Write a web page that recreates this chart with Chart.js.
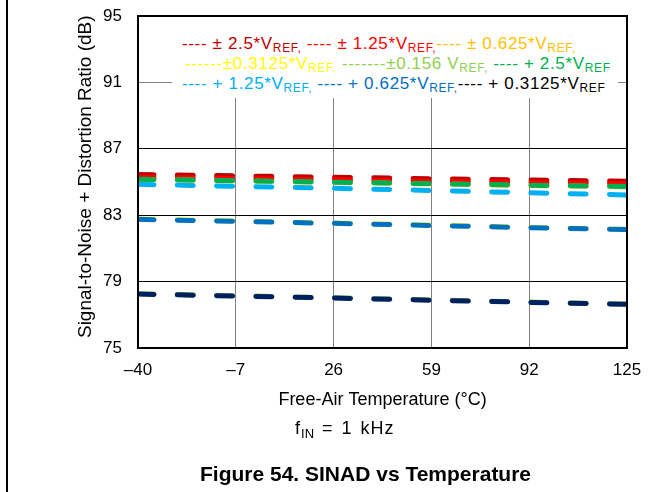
<!DOCTYPE html>
<html>
<head>
<meta charset="utf-8">
<script src="https://cdn.jsdelivr.net/npm/chart.js@4.4.1/dist/chart.umd.min.js"></script>
<style>
  html, body { margin: 0; padding: 0; background: #fff; }
  body { width: 671px; height: 492px; position: relative; overflow: hidden; font-family: "Liberation Sans", Arial, sans-serif; }
  #c { position: absolute; left: 0; top: 0; }
  #frame { position: absolute; left: 6px; top: 0; width: 2px; height: 492px; background: #000; }
  #legend { position: absolute; left: 172px; top: 17px; width: 446px; height: 81px; background: #fff; }
  .row { position: absolute; white-space: nowrap; font-size: 17px; line-height: 20px; letter-spacing: 0.65px; }
  .row sub { font-size: 12px; line-height: 0; vertical-align: -3px; }
  #fin { position: absolute; left: 295px; top: 417px; font-size: 18px; line-height: 22px; white-space: nowrap; letter-spacing: 1px; word-spacing: 2px; }
  #fin sub { font-size: 13px; line-height: 0; vertical-align: -4px; letter-spacing: 0; }
  #caption { position: absolute; left: 200px; top: 462px; font-size: 21px; line-height: 24px; font-weight: bold; white-space: nowrap; }
</style>
</head>
<body>
<canvas id="c" width="671" height="492"></canvas>
<div id="frame"></div>
<div id="legend">
  <div class="row" style="left:10px; top:17px;"><span style="color:#C00000">---- ± 2.5*V<sub>REF,</sub></span> <span style="color:#FF0000">---- ± 1.25*V<sub>REF,</sub></span><span style="color:#FFC000">---- ± 0.625*V<sub>REF,</sub></span></div>
  <div class="row" style="left:13px; top:37px;"><span style="color:#FFFF00">------±0.3125*V<sub>REF,</sub></span> <span style="color:#92D050">-------±0.156 V<sub>REF,</sub></span> <span style="color:#00B050">---- + 2.5*V<sub>REF</sub></span></div>
  <div class="row" style="left:10px; top:57px;"><span style="color:#00B0F0">---- + 1.25*V<sub>REF,</sub></span> <span style="color:#0070C0">---- + 0.625*V<sub>REF,</sub></span><span style="color:#000">---- + 0.3125*V<sub>REF</sub></span></div>
</div>
<div id="fin">f<sub>IN</sub> = 1 kHz</div>
<div id="caption">Figure 54. SINAD vs Temperature</div>
<script>
// ---- data ----
const temps = [-40, -7, 26, 59, 92, 125];
const xTickLabels = ['–40', '–7', '26', '59', '92', '125'];
const yTickValues = [75, 79, 83, 87, 91, 95];

const pm2p5    = [85.45, 85.37, 85.29, 85.20, 85.12, 85.05];
const pm1p25   = [85.29, 85.21, 85.13, 85.04, 84.96, 84.89];
const pm0p625  = [85.15, 85.06, 84.97, 84.88, 84.79, 84.71];
const pm0p3125 = [82.77, 82.65, 82.53, 82.40, 82.27, 82.15];
const pm0p156  = [78.27, 78.15, 78.03, 77.90, 77.77, 77.65];
const p2p5     = [85.17, 85.08, 84.99, 84.90, 84.81, 84.73];
const p1p25    = [84.86, 84.74, 84.62, 84.49, 84.35, 84.22];
const p0p625   = [82.75, 82.63, 82.51, 82.38, 82.25, 82.13];
const p0p3125  = [78.25, 78.13, 78.01, 77.88, 77.75, 77.63];

const seriesNames  = ['± 2.5*VREF', '± 1.25*VREF', '± 0.625*VREF', '±0.3125*VREF', '±0.156 VREF', '+ 2.5*VREF', '+ 1.25*VREF', '+ 0.625*VREF', '+ 0.3125*VREF'];
const seriesValues = [pm2p5, pm1p25, pm0p625, pm0p3125, pm0p156, p2p5, p1p25, p0p625, p0p3125];
const seriesColors = ['#C00000', '#FF0000', '#FFC000', '#FFFF00', '#92D050', '#00B050', '#00B0F0', '#0070C0', '#002060'];

const FONT = '"Liberation Sans", Arial, sans-serif';

const datasets = seriesValues.map((vals, i) => ({
  label: seriesNames[i],
  data: temps.map((t, j) => ({ x: t, y: vals[j] })),
  borderColor: seriesColors[i],
  backgroundColor: seriesColors[i],
  borderWidth: 5,
  borderDash: [16, 23.3],
  borderCapStyle: 'round',
  borderJoinStyle: 'round',
  pointRadius: 0,
  tension: 0,
  fill: false,
  order: seriesValues.length - i
}));

const frameBorder = {
  id: 'frameBorder',
  afterDraw(chart) {
    const { ctx, chartArea: a } = chart;
    ctx.save();
    ctx.strokeStyle = '#000';
    ctx.lineWidth = 2;
    ctx.strokeRect(a.left, a.top, a.right - a.left, a.bottom - a.top);
    ctx.restore();
  }
};

new Chart(document.getElementById('c'), {
  type: 'line',
  data: { datasets },
  plugins: [frameBorder],
  options: {
    responsive: false,
    animation: false,
    devicePixelRatio: 1,
    layout: { padding: { left: 60, right: 44, top: 16, bottom: 74 } },
    plugins: { legend: { display: false }, tooltip: { enabled: false } },
    scales: {
      x: {
        type: 'linear',
        min: temps[0],
        max: temps[temps.length - 1],
        afterBuildTicks: (s) => { s.ticks = temps.map(v => ({ value: v })); },
        ticks: {
          callback: (v) => { const k = temps.indexOf(v); return k >= 0 ? xTickLabels[k] : ''; },
          font: { family: FONT, size: 17 },
          color: '#000',
          padding: 12,
          maxRotation: 0
        },
        grid: { color: '#808080', lineWidth: 1, drawTicks: false },
        border: { display: true, color: '#000', width: 2 },
        title: {
          display: true,
          text: 'Free-Air Temperature (°C)',
          font: { family: FONT, size: 18 },
          color: '#000',
          padding: { top: 4, bottom: 7 }
        },
        afterFit: (s) => { s.height = 70; s.paddingLeft = 0; s.paddingRight = 0; }
      },
      y: {
        min: yTickValues[0],
        max: yTickValues[yTickValues.length - 1],
        afterBuildTicks: (s) => { s.ticks = yTickValues.map(v => ({ value: v })); },
        ticks: {
          font: { family: FONT, size: 17 },
          color: '#000',
          padding: 16
        },
        grid: {
          color: (c) => (c.tick && c.tick.value === 91 ? '#808080' : '#000'),
          lineWidth: 1,
          drawTicks: false
        },
        border: { display: true, color: '#000', width: 2 },
        title: {
          display: true,
          text: '  Signal-to-Noise + Distortion Ratio (dB)',
          font: { family: FONT, size: 19 },
          color: '#000',
          padding: { top: 14, bottom: 4 }
        },
        afterFit: (s) => { s.width = 78; s.paddingTop = 0; s.paddingBottom = 0; }
      }
    }
  }
});
</script>
</body>
</html>
